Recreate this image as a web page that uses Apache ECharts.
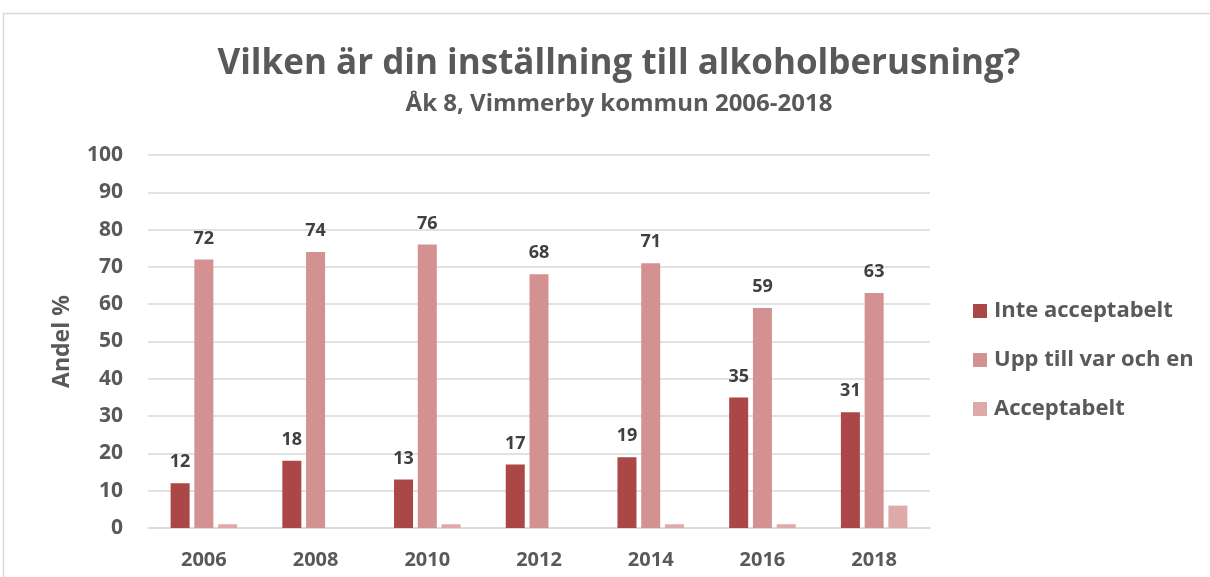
<!DOCTYPE html>
<html>
<head>
<meta charset="utf-8">
<script src="https://cdn.jsdelivr.net/npm/echarts@6/dist/echarts.min.js"></script>
<style>
  html, body { margin: 0; padding: 0; background: #ffffff; }
  #chart { width: 1210px; height: 577px; }
</style>
</head>
<body>
<div id="chart"></div>
<script>
// Survey years and answer shares (%)
const years = ['2006', '2008', '2010', '2012', '2014', '2016', '2018'];
const inteAcceptabelt = [12, 18, 13, 17, 19, 35, 31];
const uppTillVarOchEn = [72, 74, 76, 68, 71, 59, 63];
const acceptabelt = [1, 0, 1, 0, 1, 1, 6];
const seriesNames = ['Inte acceptabelt', 'Upp till var och en', 'Acceptabelt'];
const yTicks = [0, 10, 20, 30, 40, 50, 60, 70, 80, 90, 100];

const font = '"Open Sans", "Liberation Sans", sans-serif';
const textGray = '#595959';
const labelDark = '#404040';

const chart = echarts.init(document.getElementById('chart'), null, { renderer: 'canvas' });

const labelStyle = {
  show: true,
  position: 'top',
  distance: 12,
  color: labelDark,
  fontFamily: font,
  fontWeight: 'bold',
  fontSize: 18
};

chart.setOption({
  backgroundColor: '#ffffff',
  animation: false,
  graphic: [{
    type: 'rect',
    shape: { x: 3.5, y: 13.5, width: 1300, height: 700 },
    style: { fill: 'none', stroke: '#d9d9d9', lineWidth: 1.5 },
    silent: true
  }],
  title: {
    text: 'Vilken är din inställning till alkoholberusning?',
    subtext: 'Åk 8, Vimmerby kommun 2006-2018',
    left: 614,
    textAlign: 'center',
    top: 42,
    itemGap: 10,
    textStyle: { color: textGray, fontFamily: font, fontWeight: 'bold', fontSize: 35 },
    subtextStyle: { color: textGray, fontFamily: font, fontWeight: 'bold', fontSize: 24 }
  },
  legend: {
    orient: 'vertical',
    left: 968,
    top: 295,
    itemWidth: 14,
    itemHeight: 14,
    itemGap: 27,
    icon: 'rect',
    textStyle: { color: textGray, fontFamily: font, fontWeight: 'bold', fontSize: 22, padding: [0, 0, 0, 2] },
    data: seriesNames
  },
  grid: { left: 148, right: 280, top: 155, bottom: 49, containLabel: false },
  xAxis: {
    type: 'category',
    data: years,
    axisLine: { show: true, lineStyle: { color: '#d9d9d9', width: 1.5 } },
    axisTick: { show: false },
    axisLabel: { color: textGray, fontFamily: font, fontWeight: 'bold', fontSize: 20, margin: 22 }
  },
  yAxis: {
    type: 'value',
    min: yTicks[0],
    max: yTicks[yTicks.length - 1],
    interval: 10,
    name: 'Andel %',
    nameLocation: 'middle',
    nameGap: 74,
    nameRotate: 90,
    nameTextStyle: { color: textGray, fontFamily: font, fontWeight: 'bold', fontSize: 23 },
    axisLine: { show: false },
    axisTick: { show: false },
    axisLabel: { color: textGray, fontFamily: font, fontWeight: 'bold', fontSize: 21, margin: 25 },
    splitLine: { lineStyle: { color: '#d9d9d9', width: 1.5 } }
  },
  series: [
    {
      name: seriesNames[0], type: 'bar', data: inteAcceptabelt,
      barWidth: 19, barGap: '25%',
      itemStyle: { color: '#ab4746' },
      label: labelStyle
    },
    {
      name: seriesNames[1], type: 'bar', data: uppTillVarOchEn,
      barWidth: 19, barGap: '25%',
      itemStyle: { color: '#d39291' },
      label: labelStyle
    },
    {
      name: seriesNames[2], type: 'bar', data: acceptabelt,
      barWidth: 19, barGap: '25%',
      itemStyle: { color: '#dea9a9' }
    }
  ]
});
</script>
</body>
</html>
